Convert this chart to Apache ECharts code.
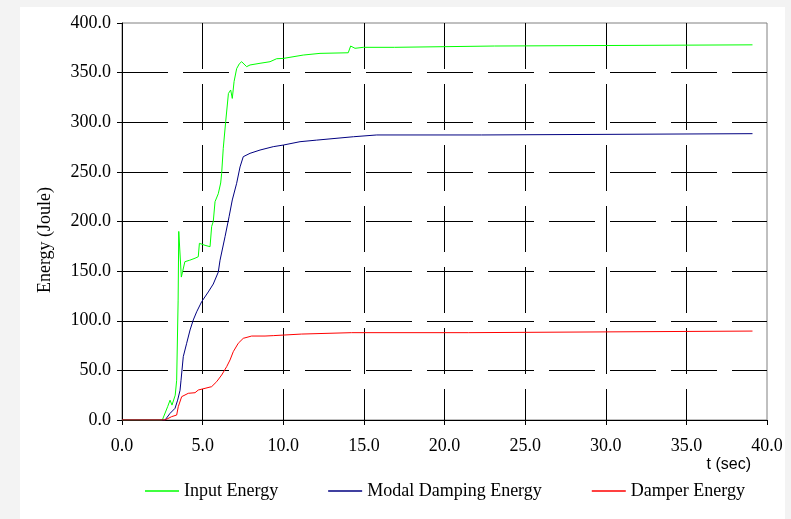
<!DOCTYPE html>
<html>
<head>
<meta charset="utf-8">
<script src="https://cdn.jsdelivr.net/npm/echarts@6/dist/echarts.min.js"></script>
<style>
  html, body { margin: 0; padding: 0; background: #f3f3f3; }
  .panel { position: absolute; left: 20px; top: 7px; width: 765px; height: 512px; background: #fff; }
  #chart { position: absolute; left: 0; top: 0; width: 791px; height: 519px; }
</style>
</head>
<body>
<div class="panel"></div>
<div id="chart"></div>
<script>
// time (sec) / energy (Joule)
const inputT = [0, 2.5, 2.83, 2.98, 3.1, 3.17, 3.3, 3.39, 3.48, 3.52, 3.6, 3.68, 3.9, 4.2, 4.53, 4.73, 4.8, 5.15, 5.46, 5.56, 5.66, 5.77, 5.97, 6.12, 6.18, 6.28, 6.43, 6.6, 6.74, 6.84, 6.95, 7.11, 7.28, 7.42, 7.73, 7.94, 8.56, 9.18, 9.59, 10.0, 11.24, 12.28, 14.03, 14.18, 14.45, 14.97, 16.9, 17.0, 23.1, 23.2, 39.1];
const inputE = [0, 0, 13.4, 20, 15, 13, 25, 40, 120, 190, 191, 144, 159.5, 161, 163, 164.5, 178, 176, 174.6, 195, 200, 220, 228, 238.8, 248.5, 273.7, 300.6, 329, 332.5, 324, 341, 354, 359, 361, 356, 357.7, 359.4, 361, 364, 364.3, 367.7, 369.4, 370, 376.8, 374.5, 375.5, 375.5, 376.8, 376.8, 378, 378];

const modalT = [0, 2.67, 2.98, 3.29, 3.45, 3.6, 3.66, 3.8, 4.01, 4.22, 4.42, 4.63, 4.94, 5.35, 5.66, 5.97, 6.08, 6.39, 6.64, 6.84, 7.11, 7.32, 7.52, 7.94, 8.56, 9.38, 10.0, 11.04, 12.07, 14.35, 15.8, 22.3, 22.4, 39.1];
const modalE = [0, 0, 6.7, 11.8, 20, 30, 40, 63.8, 77.3, 90.7, 100.8, 109, 119.2, 129, 137, 149, 161, 184.7, 204.8, 221.7, 238.5, 255, 265.3, 268.7, 272, 275.4, 277, 280.4, 282, 285.4, 287.2, 287.2, 288.5, 288.5];

const damperT = [0, 2.67, 3.08, 3.39, 3.49, 3.7, 4.11, 4.53, 4.73, 5.15, 5.56, 5.87, 6.18, 6.49, 6.7, 6.9, 7.21, 7.52, 8.04, 8.87, 9.38, 11.14, 14.24, 21.5, 21.6, 39.1];
const damperE = [0, 0, 3.4, 5, 13.4, 23.5, 26.9, 27.5, 30.2, 31.9, 33.6, 38.6, 45.3, 53.7, 60.5, 68.8, 77.3, 82.3, 84.6, 84.6, 85, 86.6, 88, 88, 89.6, 89.6];

const seriesNames = ['Input Energy', 'Modal Damping Energy', 'Damper Energy'];
const seriesColors = ['#00ff00', '#000080', '#ff0000'];

const zip = (t, e) => t.map((v, i) => [v, e[i]]);

const serif = 'Liberation Serif';
const gridLine = { show: true, showMinLine: false, showMaxLine: false, lineStyle: { color: '#000', width: 1, type: [46, 15] } };

const chart = echarts.init(document.getElementById('chart'));
chart.setOption({
  animation: false,
  backgroundColor: 'transparent',
  grid: { left: 122, right: 24, top: 23, bottom: 99, show: true, backgroundColor: '#fff', borderColor: '#808080', borderWidth: 1 },
  legend: {
    left: 140, top: 477,
    icon: 'rect', itemWidth: 34, itemHeight: 1.5, itemGap: 50,
    textStyle: { fontFamily: serif, fontSize: 18, color: '#000' },
    data: seriesNames
  },
  xAxis: {
    type: 'value', min: 0, max: 40, interval: 5,
    axisLine: { show: true, lineStyle: { color: '#000' } },
    axisTick: { show: true, length: 5, lineStyle: { color: '#000' } },
    axisLabel: { margin: 17, fontFamily: serif, fontSize: 18, color: '#000', formatter: v => v.toFixed(1) },
    splitLine: gridLine
  },
  yAxis: {
    type: 'value', min: 0, max: 400, interval: 50,
    axisLine: { show: true, lineStyle: { color: '#000' } },
    axisTick: { show: true, length: 5, lineStyle: { color: '#000' } },
    axisLabel: { margin: 11, fontFamily: serif, fontSize: 18, color: '#000', formatter: v => v.toFixed(1) },
    splitLine: gridLine
  },
  graphic: [
    { type: 'text', x: 45, y: 240, rotation: Math.PI / 2,
      style: { text: 'Energy (Joule)', font: '18px "Liberation Serif"', fill: '#000', align: 'center', verticalAlign: 'middle' } },
    { type: 'text', x: 751, y: 465,
      style: { text: 't (sec)', font: '16px "Liberation Sans"', fill: '#000', align: 'right', verticalAlign: 'middle' } }
  ],
  series: [
    { name: seriesNames[0], type: 'line', symbol: 'none', color: seriesColors[0], lineStyle: { width: 1 }, data: zip(inputT, inputE) },
    { name: seriesNames[1], type: 'line', symbol: 'none', color: seriesColors[1], lineStyle: { width: 1 }, data: zip(modalT, modalE) },
    { name: seriesNames[2], type: 'line', symbol: 'none', color: seriesColors[2], lineStyle: { width: 1 }, data: zip(damperT, damperE) }
  ]
});
</script>
</body>
</html>
